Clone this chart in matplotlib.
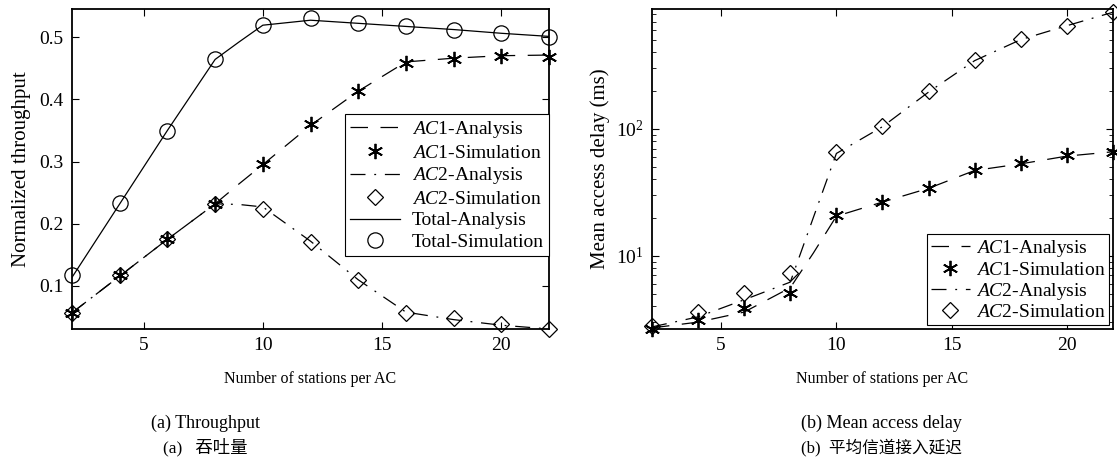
import matplotlib
matplotlib.use('Agg')
import matplotlib.pyplot as plt

plt.rcParams['font.family'] = ['Liberation Serif', 'Noto Sans CJK SC']
plt.rcParams['mathtext.fontset'] = 'custom'
plt.rcParams['mathtext.rm'] = 'Liberation Serif'
plt.rcParams['mathtext.it'] = 'Liberation Serif:italic'
plt.rcParams['xtick.direction'] = 'in'
plt.rcParams['ytick.direction'] = 'in'

# stations per AC
n_sim = [2, 4, 6, 8, 10, 12, 14, 16, 18, 20, 22]
n_ana = [2, 4, 6, 8, 9, 10, 12, 14, 16, 18, 20, 22]

# (a) throughput
ac1_thr_sim = [0.057, 0.117, 0.176, 0.232, 0.296, 0.361, 0.414, 0.459, 0.464, 0.470, 0.468]
ac1_thr_ana = [0.057, 0.116, 0.175, 0.232, 0.264, 0.295, 0.358, 0.413, 0.460, 0.466, 0.470, 0.471]
ac2_thr_sim = [0.057, 0.117, 0.176, 0.232, 0.223, 0.170, 0.109, 0.057, 0.048, 0.039, 0.031]
ac2_thr_ana = [0.057, 0.116, 0.175, 0.232, 0.231, 0.227, 0.172, 0.110, 0.058, 0.046, 0.037, 0.031]
tot_thr_sim = [0.117, 0.233, 0.349, 0.465, 0.519, 0.530, 0.523, 0.517, 0.512, 0.506, 0.500]
tot_thr_ana = [0.114, 0.232, 0.350, 0.464, 0.492, 0.519, 0.527, 0.522, 0.517, 0.512, 0.506, 0.501]

# (b) mean access delay (ms)
ac1_dly_sim = [2.65, 3.1, 3.9, 5.1, 21, 26.4, 34, 47.5, 53.5, 62, 66]
ac1_dly_ana = [2.7, 3.0, 3.6, 5.6, 10.5, 20.5, 26.5, 34, 47, 53, 61, 66]
ac2_dly_sim = [2.8, 3.6, 5.1, 7.3, 66, 106, 197, 350, 510, 650, 830]
ac2_dly_ana = [2.75, 3.3, 4.5, 6.2, 20, 64, 104, 195, 345, 505, 650, 830]

fig = plt.figure(figsize=(11.17, 4.62), dpi=100)
ax1 = fig.add_axes([0.0645, 0.288, 0.427, 0.6925])
ax2 = fig.add_axes([0.5837, 0.288, 0.4127, 0.6925])

mk = dict(color='k', linestyle='none', markerfacecolor='none', markeredgewidth=0.9, clip_on=False)
star = (6, 2, 0)
dash = (0, (14, 10))
dashdot = (0, (12, 7, 1.5, 7))

ax1.plot(n_ana, ac1_thr_ana, 'k', ls=dash, lw=0.9, label=r'$\mathit{AC}$1-Analysis')
ax1.plot(n_sim, ac1_thr_sim, marker=star, markersize=11, label=r'$\mathit{AC}$1-Simulation',
         **{**mk, 'markeredgewidth': 1.3})
ax1.plot(n_ana, ac2_thr_ana, 'k', ls=dashdot, lw=0.9, label=r'$\mathit{AC}$2-Analysis')
ax1.plot(n_sim, ac2_thr_sim, marker='D', markersize=8.5, label=r'$\mathit{AC}$2-Simulation', **mk)
ax1.plot(n_ana, tot_thr_ana, 'k', ls='-', lw=0.9, label='Total-Analysis')
ax1.plot(n_sim, tot_thr_sim, marker='o', markersize=11, label='Total-Simulation', **mk)

ax1.set_xlim(2, 22)
ax1.set_ylim(0.031, 0.545)
ax1.set_xticks([5, 10, 15, 20])
ax1.set_yticks([0.1, 0.2, 0.3, 0.4, 0.5])
ax1.set_xlabel('Number of stations per AC', fontsize=11.5, labelpad=12)
ax1.set_ylabel('Normalized throughput', fontsize=15, labelpad=6)
ax1.legend(loc='center right', bbox_to_anchor=(1.0, 0.45), fontsize=14, frameon=True,
           fancybox=False, edgecolor='k', framealpha=1, borderaxespad=0, handlelength=2.6,
           labelspacing=0.2, borderpad=0.25, handletextpad=0.6).get_frame().set_linewidth(0.8)

ax2.plot(n_ana, ac1_dly_ana, 'k', ls=dash, lw=0.9, label=r'$\mathit{AC}$1-Analysis')
ax2.plot(n_sim, ac1_dly_sim, marker=star, markersize=11, label=r'$\mathit{AC}$1-Simulation',
         **{**mk, 'markeredgewidth': 1.3})
ax2.plot(n_ana, ac2_dly_ana, 'k', ls=dashdot, lw=0.9, label=r'$\mathit{AC}$2-Analysis')
ax2.plot(n_sim, ac2_dly_sim, marker='D', markersize=8.5, label=r'$\mathit{AC}$2-Simulation', **mk)
ax2.set_yscale('log')
ax2.set_xlim(2, 22)
ax2.set_ylim(2.65, 880)
ax2.set_xticks([5, 10, 15, 20])
ax2.set_xlabel('Number of stations per AC', fontsize=11.5, labelpad=12)
ax2.set_ylabel('Mean access delay (ms)', fontsize=15, labelpad=4)
ax2.legend(loc='lower right', fontsize=14, frameon=True, fancybox=False, edgecolor='k',
           framealpha=1, borderaxespad=0.2, handlelength=2.0, labelspacing=0.1,
           borderpad=0.2, handletextpad=0.3).get_frame().set_linewidth(0.8)

for ax in (ax1, ax2):
    ax.tick_params(which='both', top=True, right=True, labelsize=14)
    ax.tick_params(which='major', length=5, pad=6)
    ax.tick_params(which='minor', length=3)
    for s in ax.spines.values():
        s.set_linewidth(1.3)

fig.text(0.184, 0.083, '(a) Throughput', ha='center', va='center', fontsize=13)
fig.text(0.184, 0.032, '(a)   吞吐量', ha='center', va='center', fontsize=12.5)
fig.text(0.789, 0.083, '(b) Mean access delay', ha='center', va='center', fontsize=13)
fig.text(0.789, 0.032, '(b)  平均信道接入延迟', ha='center', va='center', fontsize=12)

fig.savefig('out.png', dpi=100)
